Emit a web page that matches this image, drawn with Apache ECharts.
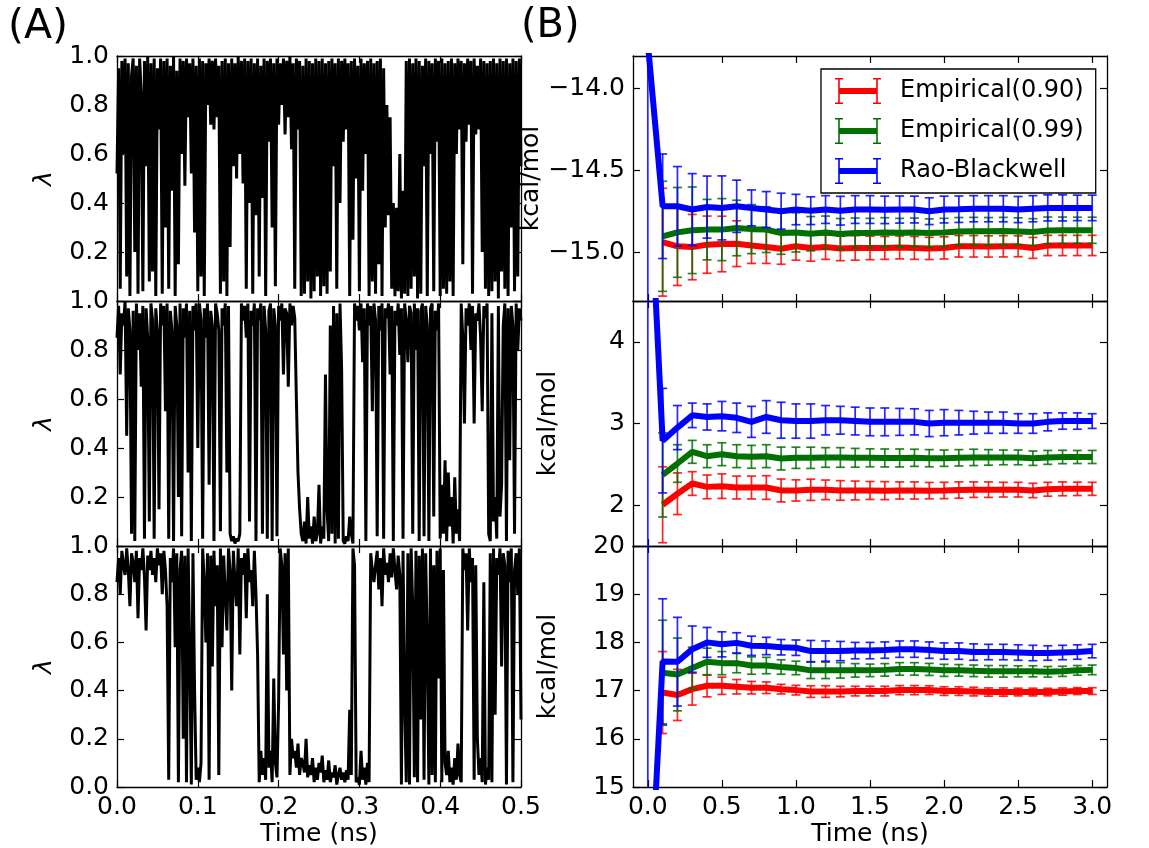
<!DOCTYPE html>
<html><head><meta charset="utf-8">
<script src="https://cdn.jsdelivr.net/npm/echarts@6/dist/echarts.min.js"></script>
<style>html,body{margin:0;padding:0;background:#fff}#c{width:1149px;height:848px}</style>
</head><body><div id="c"></div>
<script>
// ---------- Panel A: lambda trajectories (sampled every 0.002 ns) ----------
const stepA = 0.002;
const lam1 = [
.52,.95,.05,.98,.60,.99,.10,.97,.02,.92,
.99,.20,.96,.03,.99,.85,.04,.98,.55,1.0,
.08,.97,.12,.99,.02,.95,.70,.99,.03,.98,
.30,.99,.05,.96,.45,1.0,.02,.94,.15,.99,
.60,.98,.47,.99,.75,.97,.52,.99,.28,.96,
.04,.99,.10,.98,.02,.97,.80,.99,.72,.98,
.70,.99,.75,.96,.03,.98,.08,.99,.02,.97,
.22,.99,.55,.97,.50,1.0,.60,.98,.48,.99,
.05,.98,.40,.99,.03,.97,.35,.99,.10,.96,
.42,.99,.02,.98,.65,.99,.30,.97,.06,.99,
.72,.97,.80,.99,.68,.98,.75,1.0,.62,.97,
.05,.99,.70,.98,.02,.96,.03,.99,.08,.98,
.01,.97,.04,.99,.10,.98,.02,.99,.06,.97,
.03,.98,.12,.99,.55,.97,.05,.99,.40,.98,
.65,.99,.70,.97,.02,.98,.25,.99,.50,.96,
.04,.99,.45,.97,.60,.98,.02,.99,.08,.97,
.03,.98,.15,.99,.02,.95,.30,.80,.35,.75,
.05,.40,.02,.38,.04,.60,.01,.45,.03,.98,
.02,.99,.05,.97,.10,.99,.01,.98,.03,.96,
.55,.99,.02,.98,.60,.97,.04,.99,.65,.98,
.02,.99,.05,.97,.03,.98,.08,.99,.02,.97,
.60,.99,.70,.98,.15,.97,.65,.99,.72,.98,
.03,.99,.68,.96,.70,.99,.20,.98,.05,.97,
.02,.98,.04,.99,.08,.97,.01,.99,.12,.98,
.05,.99,.02,.97,.30,.99,.04,.98,.10,.99,
.55];
const lam2 = [
.85,.98,.70,.95,.90,1.0,.45,.97,.88,.05,
.96,.02,.99,.80,.95,.65,.98,.03,.97,.85,
.10,.99,.92,.03,.97,.88,.15,.99,.90,.98,
.55,.99,.03,.96,.88,.02,.98,.90,.20,.99,
.04,.97,.85,.99,.30,.96,.02,.98,.88,.99,
.40,.99,.92,.03,.97,.85,.99,.25,.96,.90,
.02,.99,.95,.88,.06,.97,.90,.99,.30,.98,
.05,.02,.04,.01,.03,.02,.05,.99,.92,.98,
.85,.99,.10,.96,.90,.99,.02,.97,.92,.99,
.05,.98,.88,.03,.96,.99,.02,.97,.90,.04,
.98,.92,.99,.70,.97,.95,.65,.99,.90,.98,
.93,.60,.30,.15,.05,.02,.10,.01,.20,.03,
.08,.01,.12,.02,.05,.25,.01,.08,.03,.70,
.15,.02,.90,.05,.98,.01,.95,.03,.99,.72,
.02,.01,.04,.02,.12,.05,.01,.99,.92,.98,
.88,.99,.75,.97,.02,.99,.90,.98,.55,.99,
.92,.04,.98,.88,.99,.03,.97,.93,.99,.70,
.98,.02,.96,.90,.99,.78,.97,.03,.99,.92,
.75,.98,.95,.05,.99,.80,.97,.02,.96,.99,
.04,.98,.90,.02,.97,.99,.12,.96,.88,.99,
.03,.25,.05,.35,.02,.30,.08,.20,.01,.28,
.05,.15,.02,.99,.85,.50,.97,.90,.99,.80,
.98,.50,.95,.92,.99,.85,.55,.98,.93,.99,
.05,.02,.95,.10,.20,.03,.98,.12,.25,.90,
.99,.02,.97,.35,.98,.90,.05,.99,.80,.97,
.92];
const lam3 = [
.85,.95,.80,.98,.92,.88,.99,.90,.75,.97,
.93,.85,.98,.70,.95,.90,.99,.87,.65,.96,
.90,.98,.88,.95,.85,.99,.92,.97,.80,.98,
.90,.75,.03,.95,.85,.99,.58,.97,.02,.90,
.98,.20,.96,.02,.99,.55,.01,.97,.40,.03,
.08,.02,.10,.99,.85,.60,.97,.03,.96,.50,
.98,.75,.92,.05,.99,.58,.96,.80,.65,.99,
.90,.40,.98,.85,.75,.99,.55,.95,.88,.97,
.70,.99,.85,.90,.75,.98,.80,.55,.02,.15,
.05,.12,.03,.80,.08,.15,.02,.45,.10,.04,
.35,.99,.92,.55,.97,.40,.99,.05,.20,.12,
.15,.08,.18,.05,.12,.10,.06,.20,.04,.09,
.05,.12,.02,.08,.03,.10,.06,.13,.02,.07,
.03,.11,.02,.06,.04,.09,.01,.05,.08,.03,
.06,.02,.07,.03,.32,.05,.99,.92,.02,.04,
.01,.15,.03,.08,.01,.10,.02,.97,.90,.85,
.92,.98,.82,.95,.75,.99,.88,.93,.85,.97,
.87,.99,.90,.82,.96,.88,.01,.98,.35,.02,
.97,.01,.99,.75,.04,.98,.02,.96,.28,.99,
.03,.97,.60,.01,.99,.05,.92,.02,.98,.45,
.99,.02,.90,.10,.05,.15,.02,.08,.01,.12,
.03,.18,.05,.02,.99,.90,.97,.65,.99,.85,
.95,.03,.92,.20,.05,.12,.02,.85,.01,.08,
.03,.97,.02,.99,.30,.95,.88,.99,.50,.97,
.92,.01,.98,.85,.99,.02,.90,.97,.80,.99,
.28];

// ---------- Panel B: estimates vs time ----------
const tB = [0.0,0.1,0.2,0.3,0.4,0.5,0.6,0.7,0.8,0.9,1.0,1.1,1.2,1.3,1.4,1.5,1.6,1.7,1.8,1.9,2.0,2.1,2.2,2.3,2.4,2.5,2.6,2.7,2.8,2.9,3.0];

const topEmp90    = [null,-14.94,-14.965,-14.97,-14.955,-14.951,-14.949,-14.96,-14.97,-14.98,-14.965,-14.976,-14.97,-14.978,-14.975,-14.975,-14.975,-14.972,-14.975,-14.978,-14.975,-14.965,-14.965,-14.966,-14.965,-14.965,-14.975,-14.96,-14.96,-14.96,-14.96];
const topEmp90Err = [null,0.33,0.24,0.2,0.175,0.17,0.14,0.11,0.1,0.095,0.085,0.08,0.075,0.075,0.075,0.072,0.07,0.07,0.07,0.068,0.068,0.066,0.066,0.065,0.065,0.064,0.064,0.062,0.062,0.062,0.062];
const topEmp99    = [null,-14.904,-14.88,-14.867,-14.863,-14.863,-14.853,-14.86,-14.863,-14.884,-14.88,-14.888,-14.88,-14.89,-14.884,-14.884,-14.88,-14.882,-14.88,-14.884,-14.88,-14.874,-14.873,-14.873,-14.872,-14.874,-14.878,-14.868,-14.867,-14.867,-14.867];
const topEmp99Err = [null,0.337,0.275,0.265,0.185,0.19,0.17,0.15,0.14,0.13,0.12,0.105,0.1,0.095,0.092,0.09,0.09,0.088,0.088,0.087,0.086,0.085,0.085,0.084,0.084,0.083,0.082,0.082,0.081,0.08,0.08];
const topRB       = [-13.72,-14.72,-14.72,-14.74,-14.725,-14.73,-14.72,-14.73,-14.74,-14.75,-14.74,-14.747,-14.74,-14.747,-14.74,-14.74,-14.742,-14.74,-14.74,-14.75,-14.74,-14.738,-14.735,-14.735,-14.735,-14.74,-14.735,-14.73,-14.73,-14.73,-14.73];
const topRBErr    = [8,0.32,0.243,0.22,0.19,0.196,0.16,0.11,0.11,0.11,0.093,0.085,0.085,0.088,0.085,0.085,0.084,0.083,0.082,0.082,0.082,0.081,0.08,0.08,0.08,0.08,0.08,0.08,0.08,0.078,0.078];

const midEmp90    = [null,2.005,2.14,2.265,2.224,2.233,2.216,2.216,2.216,2.18,2.18,2.188,2.188,2.18,2.18,2.18,2.178,2.18,2.18,2.178,2.18,2.185,2.19,2.19,2.19,2.19,2.18,2.195,2.2,2.2,2.2];
const midEmp90Err = [null,0.465,0.255,0.145,0.145,0.15,0.14,0.14,0.145,0.14,0.13,0.13,0.12,0.12,0.115,0.11,0.11,0.105,0.105,0.1,0.1,0.1,0.095,0.095,0.09,0.09,0.088,0.085,0.085,0.082,0.08];
const midEmp99    = [null,2.37,2.51,2.653,2.6,2.624,2.6,2.592,2.6,2.571,2.58,2.58,2.584,2.584,2.58,2.58,2.578,2.578,2.58,2.575,2.575,2.58,2.585,2.585,2.585,2.585,2.575,2.585,2.59,2.59,2.59];
const midEmp99Err = [null,0.515,0.23,0.14,0.14,0.14,0.14,0.14,0.14,0.14,0.13,0.13,0.12,0.12,0.115,0.11,0.11,0.11,0.105,0.105,0.1,0.1,0.1,0.095,0.09,0.09,0.088,0.085,0.082,0.08,0.08];
const midRB       = [6.5,2.79,2.95,3.10,3.08,3.09,3.07,3.02,3.08,3.04,3.03,3.03,3.04,3.04,3.03,3.02,3.02,3.02,3.02,3.0,3.01,3.01,3.01,3.01,3.01,3.0,3.0,3.02,3.03,3.03,3.03];
const midRBErr    = [10,0.64,0.27,0.15,0.16,0.18,0.18,0.19,0.2,0.22,0.21,0.21,0.18,0.17,0.17,0.17,0.17,0.165,0.16,0.16,0.16,0.15,0.14,0.13,0.13,0.12,0.12,0.11,0.1,0.1,0.09];

const botEmp90    = [null,16.96,16.91,17.03,17.1,17.1,17.08,17.06,17.06,17.03,17.01,16.98,16.98,16.98,16.99,16.99,16.99,17.01,17.01,17.01,16.99,16.99,16.98,16.97,16.97,16.97,16.97,16.97,16.98,16.99,16.99];
const botEmp90Err = [null,0.85,0.53,0.33,0.23,0.18,0.15,0.13,0.12,0.1,0.1,0.12,0.12,0.11,0.1,0.1,0.1,0.095,0.095,0.09,0.09,0.09,0.09,0.085,0.085,0.08,0.08,0.078,0.075,0.072,0.07];
const botEmp99    = [null,17.37,17.335,17.47,17.6,17.57,17.57,17.52,17.52,17.49,17.47,17.42,17.42,17.42,17.42,17.42,17.43,17.45,17.45,17.44,17.42,17.42,17.41,17.4,17.4,17.4,17.4,17.39,17.4,17.42,17.43];
const botEmp99Err = [null,1.09,0.755,0.43,0.28,0.24,0.2,0.18,0.17,0.15,0.14,0.17,0.17,0.16,0.14,0.13,0.13,0.13,0.13,0.125,0.125,0.12,0.12,0.12,0.12,0.115,0.115,0.11,0.105,0.1,0.1];
const botRB       = [11.7,17.605,17.6,17.86,18.0,17.96,17.99,17.93,17.925,17.9,17.89,17.82,17.82,17.82,17.83,17.83,17.84,17.86,17.86,17.84,17.82,17.82,17.8,17.8,17.8,17.79,17.78,17.78,17.79,17.8,17.82];
const botRBErr    = [10,1.3,0.92,0.48,0.31,0.26,0.21,0.2,0.18,0.16,0.16,0.22,0.21,0.2,0.17,0.17,0.17,0.17,0.17,0.17,0.17,0.17,0.17,0.16,0.16,0.16,0.16,0.15,0.15,0.15,0.14];

const seriesNames = ['Empirical(0.90)','Empirical(0.99)','Rao-Blackwell'];
const seriesColors = ['#ff0000','#007000','#0000ff'];

// tick labels
const xTicksA = [0.0,0.1,0.2,0.3,0.4,0.5];
const xTicksB = [0.0,0.5,1.0,1.5,2.0,2.5,3.0];
const yTicksTop = [-15.0,-14.5,-14.0];
const yTicksMid = [2,3,4];
const yTicksBot = [15,16,17,18,19,20];

// ---------- layout ----------
const FONT = 'DejaVu Sans';
const FS = 25;
const LEFT_X = 117, LEFT_W = 404, RIGHT_X = 633, RIGHT_W = 474;
const TOPS = [56, 301, 546], H = 245;

const grids = [];
TOPS.forEach(t => grids.push({left: LEFT_X, top: t, width: LEFT_W, height: H}));
TOPS.forEach(t => grids.push({left: RIGHT_X, top: t, width: RIGHT_W, height: H}));

const AX_LINE = {show: true, onZero: false, lineStyle: {color: '#000', width: 1.3}};
function tick(cv) { const o = {show: true, inside: true, length: 7, lineStyle: {color: '#000', width: 1.2}}; if (cv) o.customValues = cv; return o; }
function lbl(show, fmt, cv, extra) {
  const o = Object.assign({show: show, formatter: fmt, fontSize: FS, fontFamily: FONT, color: '#000', margin: 8}, extra || {});
  if (cv) o.customValues = cv;
  return o;
}
const nameStyle = {fontSize: FS, fontFamily: FONT, color: '#000'};
const f1 = v => v.toFixed(1);
const fMinus = v => (v < 0 ? '\u2212' : '') + Math.abs(v).toFixed(1);
const fInt = v => String(Math.round(v));

const xAxes = [], yAxes = [];
for (let gi = 0; gi < 6; gi++) {
  const left = gi < 3;
  const isBottom = (gi === 2 || gi === 5);
  ['bottom', 'top'].forEach(pos => {
    const ax = {type: 'value', gridIndex: gi, position: pos, axisLine: AX_LINE, splitLine: {show: false},
      axisLabel: lbl(pos === 'bottom' && isBottom, f1, left ? null : xTicksB),
      axisTick: tick(left ? null : xTicksB),
      name: (pos === 'bottom' && isBottom) ? 'Time (ns)' : '', nameLocation: 'middle', nameGap: 35, nameTextStyle: nameStyle};
    if (left) { ax.min = xTicksA[0]; ax.max = xTicksA[xTicksA.length - 1]; ax.interval = 0.1; }
    else { ax.min = -0.1; ax.max = 3.1; }
    xAxes.push(ax);
  });
  ['left', 'right'].forEach(pos => {
    const ax = {type: 'value', gridIndex: gi, position: pos, axisLine: AX_LINE, splitLine: {show: false},
      nameLocation: 'middle', nameRotate: 90};
    if (left) {
      ax.min = 0; ax.max = 1; ax.interval = 0.2;
      ax.axisTick = tick();
      ax.axisLabel = lbl(pos === 'left', f1, null, {showMinLabel: gi === 2});
      ax.name = pos === 'left' ? 'λ' : '';
      ax.nameGap = 60;
      ax.nameTextStyle = Object.assign({fontStyle: 'italic'}, nameStyle);
    } else {
      ax.name = pos === 'left' ? 'kcal/mol' : '';
      ax.nameTextStyle = nameStyle;
      if (gi === 3) { ax.min = -15.3; ax.max = -13.8; ax.axisTick = tick(yTicksTop); ax.axisLabel = lbl(pos === 'left', fMinus, yTicksTop); ax.nameGap = 76; }
      if (gi === 4) { ax.min = 1.5; ax.max = 4.5; ax.axisTick = tick(yTicksMid); ax.axisLabel = lbl(pos === 'left', fInt, yTicksMid); ax.nameGap = 72; }
      if (gi === 5) { ax.min = yTicksBot[0]; ax.max = yTicksBot[yTicksBot.length - 1]; ax.interval = 1; ax.axisTick = tick(); ax.axisLabel = lbl(pos === 'left', fInt); ax.nameGap = 72; }
    }
    yAxes.push(ax);
  });
}

const series = [];
// panel A traces
[lam1, lam2, lam3].forEach((arr, gi) => {
  series.push({type: 'line', xAxisIndex: 2 * gi, yAxisIndex: 2 * gi, showSymbol: false, symbol: 'none',
    sampling: null, clip: true, silent: true,
    lineStyle: {color: '#000', width: 3, join: 'miter', miterLimit: 2},
    data: arr.map((v, i) => [i * stepA, v])});
});

// error bar renderer
function errRender(params, api) {
  const x = api.value(0), lo = api.value(1), hi = api.value(2);
  const p1 = api.coord([x, lo]), p2 = api.coord([x, hi]);
  const cs = params.coordSys;
  const yTop = cs.y, yBot = cs.y + cs.height;
  const cw = 4.5;
  const col = api.visual('color');
  const style = {stroke: col, lineWidth: 1.7, opacity: 0.85};
  const ya = Math.min(Math.max(p1[1], yTop), yBot);
  const yb = Math.min(Math.max(p2[1], yTop), yBot);
  const children = [{type: 'line', shape: {x1: p1[0], y1: ya, x2: p1[0], y2: yb}, style: style}];
  if (p1[1] >= yTop && p1[1] <= yBot) children.push({type: 'line', shape: {x1: p1[0] - cw, y1: p1[1], x2: p1[0] + cw, y2: p1[1]}, style: style});
  if (p2[1] >= yTop && p2[1] <= yBot) children.push({type: 'line', shape: {x1: p2[0] - cw, y1: p2[1], x2: p2[0] + cw, y2: p2[1]}, style: style});
  return {type: 'group', children: children};
}

const panelsB = [
  [[topEmp90, topEmp90Err], [topEmp99, topEmp99Err], [topRB, topRBErr]],
  [[midEmp90, midEmp90Err], [midEmp99, midEmp99Err], [midRB, midRBErr]],
  [[botEmp90, botEmp90Err], [botEmp99, botEmp99Err], [botRB, botRBErr]]
];
panelsB.forEach((panel, p) => {
  const gi = 3 + p;
  panel.forEach(([vals, errs], s) => {
    const lineData = [], errData = [];
    tB.forEach((x, i) => {
      if (vals[i] == null) return;
      lineData.push([x, vals[i]]);
      errData.push([x, vals[i] - errs[i], vals[i] + errs[i]]);
    });
    series.push({type: 'custom', name: seriesNames[s], xAxisIndex: 2 * gi, yAxisIndex: 2 * gi,
      renderItem: errRender, data: errData, itemStyle: {color: seriesColors[s]}, silent: true,
      encode: {x: 0, y: [1, 2]}, z: 2 + s});
    series.push({type: 'line', name: seriesNames[s], xAxisIndex: 2 * gi, yAxisIndex: 2 * gi,
      data: lineData, showSymbol: false, symbol: 'none', clip: true, silent: true,
      lineStyle: {color: seriesColors[s], width: 6}, itemStyle: {color: seriesColors[s]}, z: 2 + s});
  });
});

const ICON = 'path://M4 10H42V16H4Z M3.2 0H4.8V26H3.2Z M0 0H8V1.5H0Z M0 24.5H8V26H0Z M41.2 0H42.8V26H41.2Z M38 0H46V1.5H38Z M38 24.5H46V26H38Z';

const option = {
  animation: false,
  backgroundColor: '#fff',
  title: [
    {text: '(A)', left: 3, top: 2, textStyle: {fontSize: 41, fontWeight: 'normal', fontFamily: FONT, color: '#000'}},
    {text: '(B)', left: 516, top: 2, textStyle: {fontSize: 40, fontWeight: 'normal', fontFamily: FONT, color: '#000'}}
  ],
  legend: {
    orient: 'vertical', left: 821, top: 69, padding: [9, 12, 9, 14], itemGap: 14,
    itemWidth: 46, itemHeight: 26, borderColor: '#000', borderWidth: 1.3, borderRadius: 0,
    backgroundColor: '#fff', selectedMode: false, z: 10,
    textStyle: {fontSize: 24, fontFamily: FONT, color: '#000', padding: [0, 0, 0, 14]},
    data: seriesNames.map((n, i) => ({name: n, icon: ICON, itemStyle: {color: seriesColors[i]}}))
  },
  grid: grids,
  xAxis: xAxes,
  yAxis: yAxes,
  series: series
};
const chart = echarts.init(document.getElementById('c'), null, {renderer: 'canvas'});
chart.setOption(option);
</script></body></html>
